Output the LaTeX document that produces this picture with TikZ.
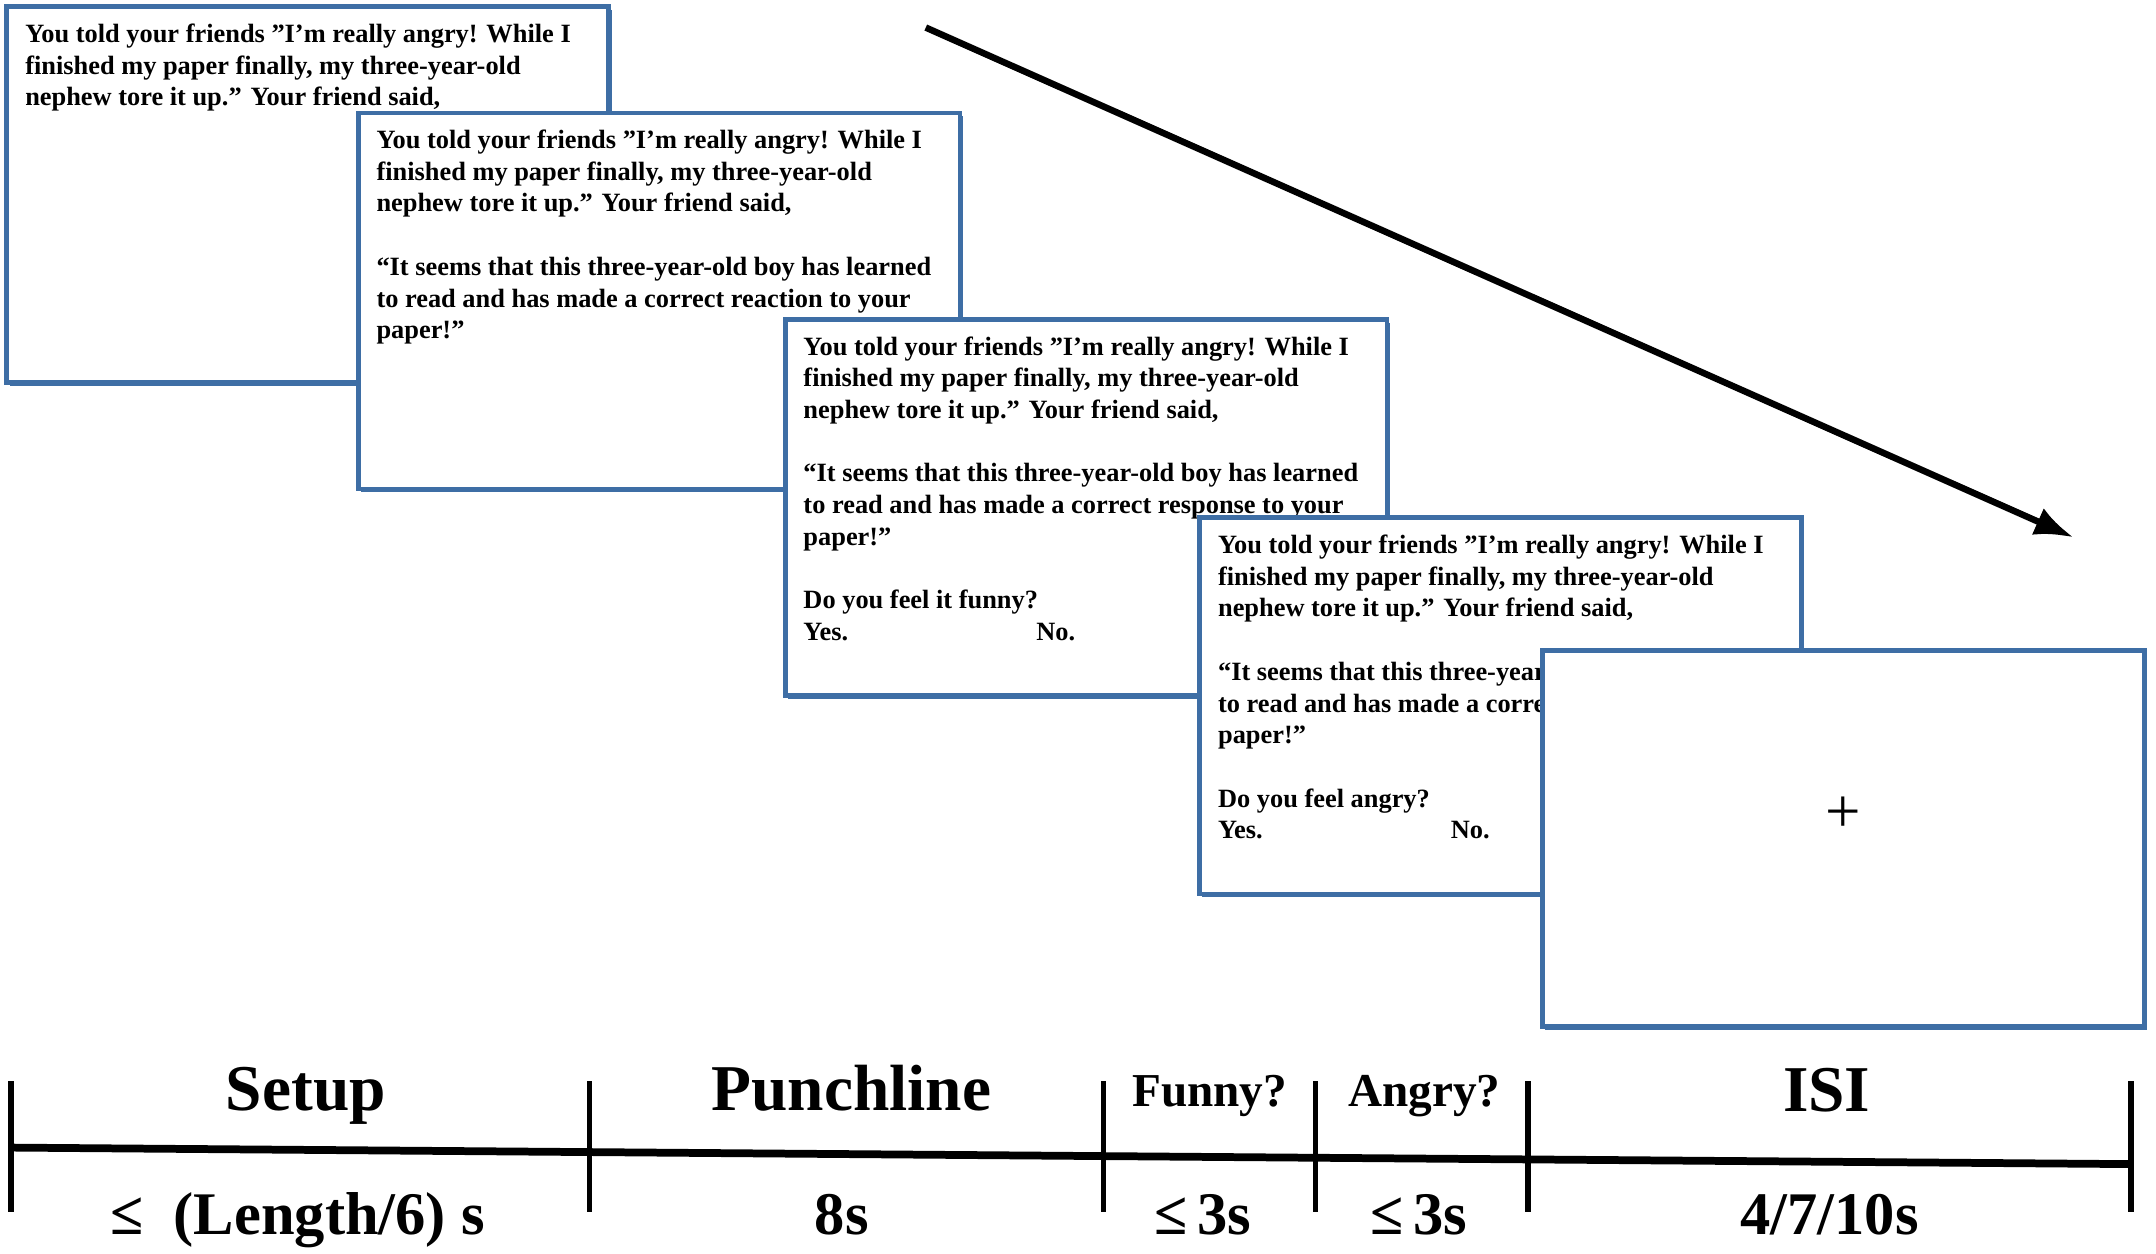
\documentclass[tikz,border=0pt]{standalone}
\usepackage{fontspec}
\setmainfont{Liberation Serif}
\usepackage{xcolor}
\usetikzlibrary{positioning,arrows.meta,shadows}

\definecolor{boxblue}{RGB}{62,110,165}

\newcommand{\setuptext}{You told your friends ”I’m really angry! While I\\
finished my paper finally, my three-year-old\\
nephew tore it up.” Your friend said,}
\newcommand{\punchtext}[1]{“It seems that this three-year-old boy has learned\\
to read and has made a correct #1 to your\\
paper!”}
\newcommand{\yesno}{\makebox[3.38cm][l]{Yes.}No.}

\begin{document}
\begin{tikzpicture}[
    x=0.02cm, y=-0.02cm,
    screen/.style={rectangle, draw=boxblue, line width=2pt, fill=white, minimum width=8.74cm, minimum height=5.46cm, inner sep=0pt, outer sep=0pt,
        drop shadow={shadow xshift=0.04cm, shadow yshift=-0.05cm, fill=boxblue, opacity=1}},
    screentext/.style={align=left, inner sep=0pt, font=\bfseries\fontsize{10.9}{13.1}\selectfont},
    phase/.style={anchor=base, font=\bfseries\fontsize{27}{30}\selectfont},
    question/.style={anchor=base, font=\bfseries\fontsize{19.5}{22}\selectfont},
    duration/.style={anchor=base, font=\bfseries\fontsize{25}{28}\selectfont},
    line/.style={draw, line width=2.7pt, -{Latex[length=16pt, width=12pt]}}
    ]

    \useasboundingbox (0,0) rectangle (1565,910);

    \node [screen, anchor=north west] (setup) at (5,5) {};
    \node [screentext, below right=0.24cm and 0.26cm of setup.north west] (setuptxt) {\setuptext};

    \node [screen, below right=1.54cm and 5.1cm of setup.north west] (punch) {};
    \node [screentext, below right=0.24cm and 0.26cm of punch.north west] (punchtxt) {\setuptext\\[13.1pt]\punchtext{reaction}};

    \node [screen, below right=3cm and 6.2cm of punch.north west] (funny) {};
    \node [screentext, below right=0.24cm and 0.26cm of funny.north west] (funnytxt) {\setuptext\\[13.1pt]\punchtext{response}\\[13.1pt]Do you feel it funny?\\\yesno};

    \node [screen, below right=2.88cm and 6.02cm of funny.north west] (angry) {};
    \node [screentext, below right=0.24cm and 0.26cm of angry.north west] (angrytxt) {\setuptext\\[13.1pt]\punchtext{response}\\[13.1pt]Do you feel angry?\\\yesno};

    \node [screen, below right=1.92cm and 4.98cm of angry.north west] (isi) {};
    \node [inner sep=0pt, font=\fontsize{26}{26}\selectfont] (fixation) at ([yshift=0.34cm]isi.center) {+};

    \coordinate (arrowstart) at (672,20);
    \coordinate (arrowend) at (1505,390);
    \path [line] (arrowstart) -- (arrowend);

    \coordinate (tl) at (8,833);
    \coordinate (tr) at (1547,845);
    \draw [line width=3.2pt] (tl) -- (tr);
    \foreach \x in {8,428,801,955,1109,1547}
        \draw [line width=2.3pt] (\x,785) -- (\x,880);

    \node [phase] (setuplbl) at (222,806) {Setup};
    \node [phase] (punchlbl) at (618,806) {Punchline};
    \node [question] (funnylbl) at (878,803) {Funny?};
    \node [question] (angrylbl) at (1034,803) {Angry?};
    \node [phase] (isilbl) at (1326,807) {ISI};

    \node [duration] (setupdur) at (216,896) {≤\ \ (Length/6) s};
    \node [duration] (punchdur) at (611,896) {8s};
    \node [duration] (funnydur) at (873,896) {≤\,3s};
    \node [duration] (angrydur) at (1030,896) {≤\,3s};
    \node [duration] (isidur) at (1328,896) {4/7/10s};
\end{tikzpicture}
\end{document}
